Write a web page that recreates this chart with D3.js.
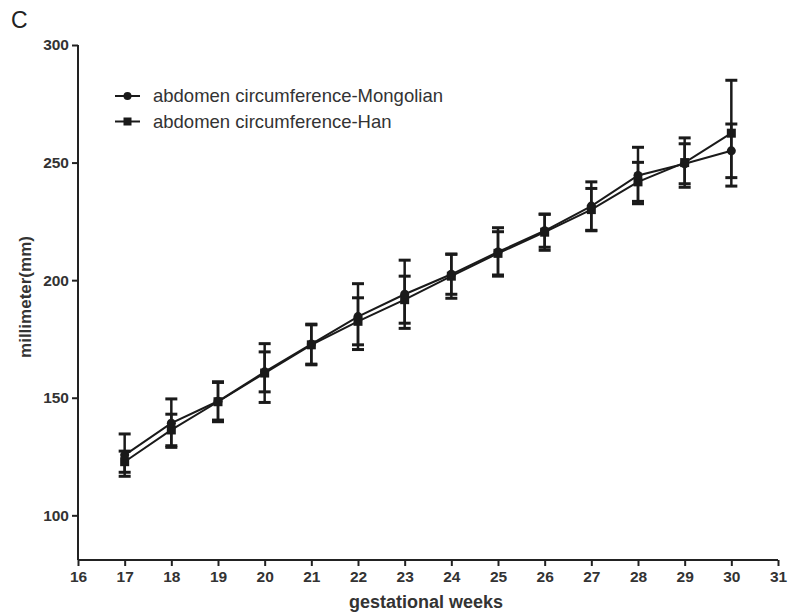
<!DOCTYPE html>
<html><head><meta charset="utf-8">
<script src="https://cdn.jsdelivr.net/npm/d3@7"></script>
<style>body{margin:0;background:#fff}svg{display:block}</style>
</head><body>
<svg id="c" width="788" height="616"></svg>
<script>
const weeks = [17,18,19,20,21,22,23,24,25,26,27,28,29,30];
const mongolMean = [125.6,139.2,148.5,161,172.8,184.5,194,202.5,212,221,231.5,244.5,249.5,255];
const mongolErr  = [9,10.3,8,8.5,8.5,14,14.5,8.5,10.3,7,10.3,12,8.5,11.4];
const hanMean = [122.8,136.3,148.3,160.5,172.5,182.5,191.7,201.7,211.4,220.4,230,241.8,250,262.5];
const hanErr  = [4.5,6.7,8.5,12.5,8.5,10,10,9.4,9.2,7.7,9,8.3,10.5,22.5];
const xTicks = [16,17,18,19,20,21,22,23,24,25,26,27,28,29,30,31];
const yTicks = [100,150,200,250,300];
const seriesNames = ["abdomen circumference-Mongolian","abdomen circumference-Han"];

const svg = d3.select("#c");
const x = d3.scaleLinear().domain([16,31]).range([78,778]);
const y = d3.scaleLinear().domain([81,300]).range([560,45]);
const FONT = "Liberation Sans, Arial, sans-serif";
const ink = "#1a1a1a";

svg.append("text").attr("x",11).attr("y",28).attr("font-family",FONT).attr("font-size",23).attr("fill","#222").text("C");

// axes
const gx = svg.append("g").attr("transform","translate(0,560)")
  .call(d3.axisBottom(x).tickValues(xTicks).tickSize(6).tickPadding(5).tickFormat(d3.format("d")));
const gy = svg.append("g").attr("transform","translate(78,0)")
  .call(d3.axisLeft(y).tickValues(yTicks).tickSize(6).tickPadding(3).tickFormat(d3.format("d")));
[gx,gy].forEach(g=>{
  g.select(".domain").attr("stroke","#222").attr("stroke-width",2);
  g.selectAll(".tick line").attr("stroke","#222").attr("stroke-width",2);
  g.selectAll(".tick text").attr("font-family",FONT).attr("font-size",15.5).attr("font-weight","bold").attr("fill","#333");
});
gy.select(".domain").attr("d","M0,45V560");
gx.select(".domain").attr("d","M78,0H778");

svg.append("text").attr("x",426).attr("y",608).attr("text-anchor","middle")
  .attr("font-family",FONT).attr("font-size",18).attr("font-weight","bold").attr("fill","#333").text("gestational weeks");
svg.append("text").attr("transform","translate(31,297) rotate(-90)").attr("text-anchor","middle")
  .attr("font-family",FONT).attr("font-size",17).attr("font-weight","bold").attr("fill","#333").text("millimeter(mm)");

function drawSeries(means, errs, shape){
  const data = weeks.map((w,i)=>({w, m:means[i], e:errs[i]}));
  const g = svg.append("g");
  g.append("path").datum(data)
    .attr("d", d3.line().x(d=>x(d.w)).y(d=>y(d.m)))
    .attr("fill","none").attr("stroke",ink).attr("stroke-width",2);
  const eb = g.selectAll(".eb").data(data).join("g");
  eb.append("line").attr("x1",d=>x(d.w)).attr("x2",d=>x(d.w))
    .attr("y1",d=>y(d.m+d.e)).attr("y2",d=>y(d.m-d.e)).attr("stroke",ink).attr("stroke-width",2.5);
  [1,-1].forEach(s=>{
    eb.append("line").attr("x1",d=>x(d.w)-6).attr("x2",d=>x(d.w)+6)
      .attr("y1",d=>y(d.m+s*d.e)).attr("y2",d=>y(d.m+s*d.e)).attr("stroke",ink).attr("stroke-width",3);
  });
  if(shape==="circle"){
    g.selectAll(".mk").data(data).join("circle").attr("cx",d=>x(d.w)).attr("cy",d=>y(d.m)).attr("r",4.5).attr("fill",ink);
  } else {
    g.selectAll(".mk").data(data).join("rect").attr("x",d=>x(d.w)-4.5).attr("y",d=>y(d.m)-4.5).attr("width",9).attr("height",9).attr("fill",ink);
  }
}
drawSeries(hanMean, hanErr, "square");
drawSeries(mongolMean, mongolErr, "circle");

// legend
const leg = svg.append("g");
seriesNames.forEach((n,i)=>{
  const ly = 96 + i*25.5;
  leg.append("line").attr("x1",115).attr("x2",140).attr("y1",ly).attr("y2",ly).attr("stroke",ink).attr("stroke-width",2);
  if(i===0) leg.append("circle").attr("cx",127.5).attr("cy",ly).attr("r",4).attr("fill",ink);
  else leg.append("rect").attr("x",123.5).attr("y",ly-4).attr("width",8).attr("height",8).attr("fill",ink);
  leg.append("text").attr("x",153).attr("y",ly+6).attr("font-family",FONT).attr("font-size",18.5).attr("fill","#333").text(n);
});
</script>
</body></html>
